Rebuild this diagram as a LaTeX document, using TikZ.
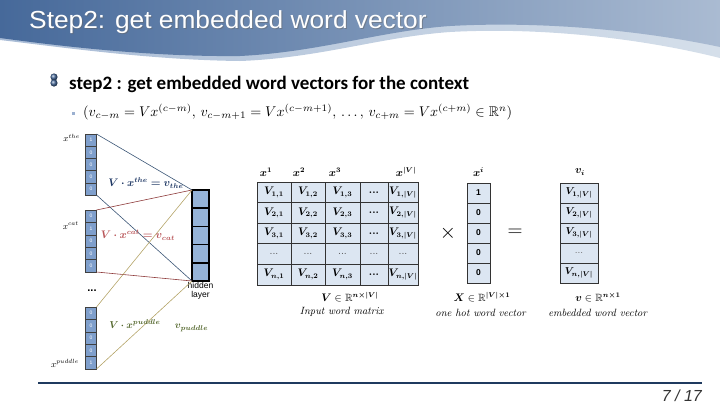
\documentclass[tikz,border=0pt]{standalone}
\usepackage{fontspec}
\usepackage{amsmath,amssymb,bm}
\newfontfamily\titlefont{Liberation Sans}
\newfontfamily\headfont{Carlito}
\usetikzlibrary{shadings}
\definecolor{bandL}{HTML}{46699A}
\definecolor{bandM}{HTML}{7592BA}
\definecolor{bandR}{HTML}{AABBD2}
\definecolor{lightL}{HTML}{A9BCD6}
\definecolor{lightR}{HTML}{D5DFEA}
\definecolor{vecfill}{HTML}{7F9FCC}
\definecolor{hidfill}{HTML}{95B3D7}
\definecolor{cellfill}{HTML}{DCE6F2}
\definecolor{navy}{HTML}{1F3864}
\definecolor{blueline}{HTML}{3A5575}
\definecolor{redline}{HTML}{8E3B3B}
\definecolor{redtext}{HTML}{B9575A}
\definecolor{oliveline}{HTML}{B4A468}
\definecolor{olivetext}{HTML}{55682E}
\definecolor{footline}{HTML}{1F3A5F}
\definecolor{bulletsq}{HTML}{9BB0D0}
\tikzset{
  lcell/.style={draw=black!75, fill=vecfill, minimum width=11pt, inner sep=0pt, outer sep=0pt,
    line width=0.6pt, font=\titlefont\fontsize{5}{5}\selectfont, text=white},
  hcell/.style={draw=black, fill=hidfill, minimum width=17pt, minimum height=18.2pt, inner sep=0pt,
    outer sep=0pt, line width=1.6pt},
  mcell/.style={draw=black!80, fill=cellfill, line width=0.8pt, minimum height=20.6pt, inner sep=0pt,
    outer sep=0pt, font=\fontsize{10.5}{11}\selectfont},
  ocell/.style={draw=black!80, fill=cellfill, line width=0.8pt, minimum height=20pt, inner sep=0pt,
    outer sep=0pt},
  lbl/.style={inner sep=0pt, font=\fontsize{10.5}{11}\selectfont},
  conn/.style={line width=0.6pt},
}
\begin{document}
\begin{tikzpicture}[x=1pt,y=-1pt]
\useasboundingbox (0,0) rectangle (720,405);
% header band
\shade[left color=lightL, right color=lightR] (0,0) -- (720,0) -- (720,58)
  .. controls (640,38) and (540,27) .. (450,32)
  .. controls (380,37) and (320,58) .. (240,61)
  .. controls (150,60) and (60,47) .. (0,40) -- cycle;
\shade[left color=bandL, middle color=bandM, right color=bandR] (0,0) -- (720,0) -- (720,47)
  .. controls (640,30) and (540,21) .. (450,26)
  .. controls (380,31) and (320,52) .. (240,56)
  .. controls (150,57) and (60,46) .. (0,38) -- cycle;
\node[anchor=base west, inner sep=0pt, text=black!60, opacity=0.5] (titlesh) at (30,29.5)
  {\scalebox{1.12}[1.05]{\titlefont\fontsize{23.5}{24}\selectfont Step2: get embedded word vector}};
\node[anchor=base west, inner sep=0pt, text=white] (title) at (29,28.5)
  {\scalebox{1.12}[1.05]{\titlefont\fontsize{23.5}{24}\selectfont Step2: get embedded word vector}};
% bullet
\shade[ball color=bandL] (54,77) circle (3.6);
\shade[ball color=bandL] (54,83) circle (3.6);
\node[anchor=base west, inner sep=0pt, font=\headfont\bfseries\fontsize{19}{19}\selectfont] (head) at (69,89)
  {step2 : get embedded word vectors for the context};
\fill[bulletsq] (71.5,111.5) rectangle (74.5,114.5);
\node[anchor=west, inner sep=0pt] (formula) at (83,112)
  {\resizebox{429pt}{!}{$(v_{c-m} = Vx^{(c-m)},\, v_{c-m+1} = Vx^{(c-m+1)},\, \ldots,\, v_{c+m} = Vx^{(c+m)} \in \mathbb{R}^n)$}};
% left vectors
\foreach \v [count=\i] in {1,0,0,0,0} {\node[lcell, minimum height=12.2pt] (the\i) at (91,{127.9+12.2*\i}) {\v};}
\foreach \v [count=\i] in {0,1,0,0,0} {\node[lcell, minimum height=12.4pt] (cat\i) at (91,{203.8+12.4*\i}) {\v};}
\foreach \v [count=\i] in {0,0,0,0,1} {\node[lcell, minimum height=12.4pt] (pud\i) at (91,{300.8+12.4*\i}) {\v};}
\foreach \i in {1,...,5} {\node[hcell] (h\i) at (200.5,{180.9+18.2*\i}) {};}
\node[below=1pt, inner sep=0pt, align=center, font=\titlefont\fontsize{8.5}{9.5}\selectfont] (hl) at (h5.south) {hidden\\layer};
\node[inner sep=0pt, font=\titlefont\bfseries\fontsize{11}{11}\selectfont] (dots) at (92,291) {...};
\node[anchor=east, lbl, font=\fontsize{9}{9}\selectfont] (xthe) at (80,138) {$x^{the}$};
\node[anchor=east, lbl, font=\fontsize{9}{9}\selectfont] (xcat) at (79,226) {$x^{cat}$};
\node[anchor=east, lbl, font=\fontsize{9}{9}\selectfont] (xpud) at (79,363) {$x^{puddle}$};
% connectors
\draw[conn, blueline] (the1.north east) -- (h1.north west);
\draw[conn, blueline] (the5.south east) -- (h5.south west);
\draw[conn, redline] (cat1.north east) -- (h1.north west);
\draw[conn, redline] (cat5.south east) -- (h5.south west);
\draw[conn, oliveline] (pud1.north east) -- (h1.north west);
\draw[conn, oliveline] (pud5.south east) -- (h5.south west);
\node[lbl, text=navy, font=\fontsize{10.5}{11}\selectfont] (lthe) at (146,183) {$\bm{V\cdot x^{the} = v_{the}}$};
\node[lbl, text=redtext, font=\fontsize{10.5}{11}\selectfont] (lcat) at (138,235) {$\bm{V\cdot x^{cat} = v_{cat}}$};
\node[lbl, text=olivetext, font=\fontsize{10}{11}\selectfont] (lpud) at (135,324) {$\bm{V\cdot x^{puddle}}$};
\node[lbl, text=olivetext, font=\fontsize{10}{11}\selectfont] (vpud) at (191.5,328) {$\bm{v_{puddle}}$};
% matrix headers
\node[lbl] (hx1) at (266,172) {$\bm{x^1}$};
\node[lbl] (hx2) at (299,172) {$\bm{x^2}$};
\node[lbl] (hx3) at (335,172) {$\bm{x^3}$};
\node[lbl] (hxv) at (406,172) {$\bm{x^{|V|}}$};
% matrix
\node[mcell, minimum width=34pt] (m11) at (274,192.3) {$\bm{V_{1,1}}$};
\node[mcell, minimum width=34pt] (m12) at (308,192.3) {$\bm{V_{1,2}}$};
\node[mcell, minimum width=35pt] (m13) at (342.5,192.3) {$\bm{V_{1,3}}$};
\node[mcell, minimum width=28pt] (m14) at (374,192.3) {\textbf{...}};
\node[mcell, minimum width=30pt] (m15) at (403,192.3) {$\bm{V_{1,|V|}}$};
\node[mcell, minimum width=34pt] (m21) at (274,212.9) {$\bm{V_{2,1}}$};
\node[mcell, minimum width=34pt] (m22) at (308,212.9) {$\bm{V_{2,2}}$};
\node[mcell, minimum width=35pt] (m23) at (342.5,212.9) {$\bm{V_{2,3}}$};
\node[mcell, minimum width=28pt] (m24) at (374,212.9) {\textbf{...}};
\node[mcell, minimum width=30pt] (m25) at (403,212.9) {$\bm{V_{2,|V|}}$};
\node[mcell, minimum width=34pt] (m31) at (274,233.5) {$\bm{V_{3,1}}$};
\node[mcell, minimum width=34pt] (m32) at (308,233.5) {$\bm{V_{3,2}}$};
\node[mcell, minimum width=35pt] (m33) at (342.5,233.5) {$\bm{V_{3,3}}$};
\node[mcell, minimum width=28pt] (m34) at (374,233.5) {\textbf{...}};
\node[mcell, minimum width=30pt] (m35) at (403,233.5) {$\bm{V_{3,|V|}}$};
\node[mcell, minimum width=34pt, text=black!70] (m41) at (274,254.1) {...};
\node[mcell, minimum width=34pt, text=black!70] (m42) at (308,254.1) {...};
\node[mcell, minimum width=35pt, text=black!70] (m43) at (342.5,254.1) {...};
\node[mcell, minimum width=28pt, text=black!70] (m44) at (374,254.1) {...};
\node[mcell, minimum width=30pt, text=black!70] (m45) at (403,254.1) {...};
\node[mcell, minimum width=34pt] (m51) at (274,274.7) {$\bm{V_{n,1}}$};
\node[mcell, minimum width=34pt] (m52) at (308,274.7) {$\bm{V_{n,2}}$};
\node[mcell, minimum width=35pt] (m53) at (342.5,274.7) {$\bm{V_{n,3}}$};
\node[mcell, minimum width=28pt] (m54) at (374,274.7) {\textbf{...}};
\node[mcell, minimum width=30pt] (m55) at (403,274.7) {$\bm{V_{n,|V|}}$};
\node[lbl] (mset) at (350,297) {$\bm{V}\in\mathbb{R}^{\bm{n\times|V|}}$};
\node[lbl] (mname) at (342,312) {\textit{Input word matrix}};
% operators
\node[inner sep=0pt, font=\fontsize{20}{20}\selectfont] (times) at (448,233) {$\times$};
\node[inner sep=0pt, font=\fontsize{20}{20}\selectfont] (eq) at (515,233) {$=$};
% one hot
\node[lbl] (hxi) at (478.5,172) {$\bm{x^i}$};
\foreach \v [count=\i] in {1,0,0,0,0}
  {\node[ocell, minimum width=23pt, font=\titlefont\bfseries\fontsize{8.5}{8.5}\selectfont] (o\i) at (478.5,{173+20*\i}) {\v};}
\node[lbl] (oset) at (482,297) {$\bm{X}\in\mathbb{R}^{\bm{|V|\times1}}$};
\node[lbl] (oname) at (481,313) {\textit{one hot word vector}};
% embedded
\node[lbl] (hvi) at (580,172) {$\bm{v_i}$};
\node[ocell, minimum width=38pt, font=\fontsize{10}{10}\selectfont] (e1) at (579,193) {$\bm{V_{1,|V|}}$};
\node[ocell, minimum width=38pt, font=\fontsize{10}{10}\selectfont] (e2) at (579,213) {$\bm{V_{2,|V|}}$};
\node[ocell, minimum width=38pt, font=\fontsize{10}{10}\selectfont] (e3) at (579,233) {$\bm{V_{3,|V|}}$};
\node[ocell, minimum width=38pt, font=\fontsize{10}{10}\selectfont, text=black!60] (e4) at (579,253) {...};
\node[ocell, minimum width=38pt, font=\fontsize{10}{10}\selectfont] (e5) at (579,273) {$\bm{V_{n,|V|}}$};
\node[lbl] (eset) at (598,297) {$\bm{v}\in\mathbb{R}^{\bm{n\times1}}$};
\node[lbl] (ename) at (598,313) {\textit{embedded word vector}};
% footer
\coordinate (fl) at (38,383);
\coordinate (fr) at (702,383);
\draw[footline, line width=2pt] (fl) -- (fr);
\node[anchor=east, inner sep=0pt, text=black!80, font=\titlefont\itshape\fontsize{16}{16}\selectfont] (page) at (702,396) {7 / 17};
\end{tikzpicture}
\end{document}
